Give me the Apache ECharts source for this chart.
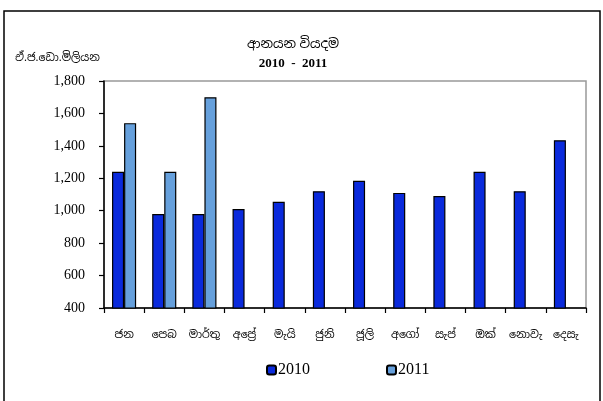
<!DOCTYPE html>
<html>
<head>
<meta charset="utf-8">
<script src="https://cdn.jsdelivr.net/npm/echarts@6/dist/echarts.min.js"></script>
<style>
  html, body { margin: 0; padding: 0; background: #fff; }
  #chart { width: 603px; height: 401px; }
</style>
</head>
<body>
<div id="chart"></div>
<script>
  // months (Sinhala)
  var months = ['ජන', 'පෙබ', 'මාර්තු', 'අප්‍රේ', 'මැයි', 'ජුනි', 'ජූලි', 'අගෝ', 'සැප්', 'ඔක්', 'නොවැ', 'දෙසැ'];
  var imports2010 = [1240, 980, 980, 1010, 1055, 1120, 1185, 1110, 1090, 1240, 1120, 1435];
  var imports2011 = [1540, 1240, 1700, null, null, null, null, null, null, null, null, null];
  var yMin = 400, yMax = 1800, yStep = 200;

  var serif = '"Liberation Serif", "DejaVu Serif", serif';
  var sinhala = '"Noto Sans", "Noto Sans Sinhala", sans-serif';

  var chart = echarts.init(document.getElementById('chart'));

  chart.setOption({
    animation: false,
    title: {
      text: 'ආනයන වියදම',
      subtext: '2010  -  2011',
      left: 288,
      textAlign: 'center',
      top: 33,
      itemGap: 6,
      textStyle: { fontFamily: sinhala, fontSize: 13, fontWeight: 'normal', color: '#000' },
      subtextStyle: { fontFamily: serif, fontSize: 13, fontWeight: 'bold', color: '#000' }
    },
    graphic: [{
      type: 'rect',
      shape: { x: 4, y: 11, width: 596, height: 400 },
      style: { fill: 'none', stroke: '#000', lineWidth: 1.5 },
      silent: true
    }, {
      type: 'text',
      left: 15,
      top: 52,
      style: { text: 'ඒ.ජ.ඩො.මිලියන', font: '11px ' + sinhala, fill: '#000' }
    }],
    legend: {
      top: 357,
      left: 261,
      itemGap: 76,
      itemWidth: 9,
      itemHeight: 9,
      textStyle: { fontFamily: serif, fontSize: 16, color: '#000', padding: [0, 0, 0, -3] },
      data: ['2010', '2011']
    },
    grid: {
      left: 104,
      right: 17,
      top: 81,
      bottom: 93,
      show: true,
      borderColor: '#999',
      borderWidth: 1.5
    },
    xAxis: {
      type: 'category',
      data: months,
      axisLine: { lineStyle: { color: '#000', width: 1.5 } },
      axisTick: { show: true, length: 5, lineStyle: { color: '#000', width: 1.2 } },
      axisLabel: { fontFamily: sinhala, fontSize: 11, color: '#000', margin: 21, interval: 0 }
    },
    yAxis: {
      type: 'value',
      min: yMin,
      max: yMax,
      interval: yStep,
      splitLine: { show: false },
      axisLine: { show: true, lineStyle: { color: '#000', width: 1.5 } },
      axisTick: { show: true, length: 5, lineStyle: { color: '#000', width: 1.2 } },
      axisLabel: {
        fontFamily: serif,
        fontSize: 14,
        color: '#000',
        margin: 19,
        formatter: function (v) { return v.toLocaleString('en-US'); }
      }
    },
    series: [{
      name: '2010',
      type: 'bar',
      data: imports2010,
      barGap: '0%',
      barCategoryGap: '40%',
      itemStyle: { color: '#0A2ADC', borderColor: '#000', borderWidth: 1.2 }
    }, {
      name: '2011',
      type: 'bar',
      data: imports2011,
      barGap: '0%',
      barCategoryGap: '40%',
      itemStyle: { color: '#66A0DC', borderColor: '#000', borderWidth: 1.2 }
    }]
  });
</script>
</body>
</html>
